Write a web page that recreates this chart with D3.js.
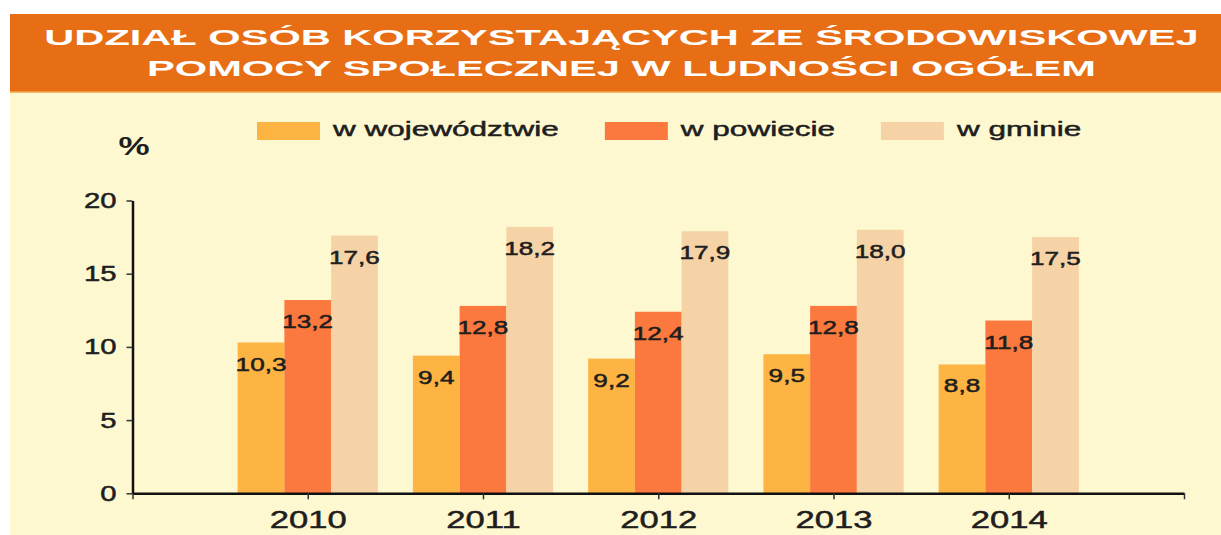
<!DOCTYPE html>
<html>
<head>
<meta charset="utf-8">
<script src="https://cdn.jsdelivr.net/npm/d3@7"></script>
<style>
  html, body { margin: 0; padding: 0; background: #fff; }
  svg { display: block; font-family: "Liberation Sans", Arial, sans-serif; }
  .heavy { stroke: #1e1e1e; stroke-width: 0.5px; }
</style>
</head>
<body>
<div id="chart"></div>
<script>
// data
var years = [2010, 2011, 2012, 2013, 2014];
var seriesNames = ["w województwie", "w powiecie", "w gminie"];
var wojewodztwo = [10.3, 9.4, 9.2, 9.5, 8.8];
var powiat = [13.2, 12.8, 12.4, 12.8, 11.8];
var gmina = [17.6, 18.2, 17.9, 18.0, 17.5];
var yTicks = [0, 5, 10, 15, 20];
var titleLines = ["UDZIAŁ OSÓB KORZYSTAJĄCYCH ZE ŚRODOWISKOWEJ", "POMOCY SPOŁECZNEJ W LUDNOŚCI OGÓŁEM"];

var seriesValues = [wojewodztwo, powiat, gmina];
var colours = ["#fdb443", "#fb783e", "#f6d3a7"];
var textColour = "#1e1e1e";

var w = 1221, h = 535;
var svg = d3.select("#chart").append("svg")
    .attr("width", w)
    .attr("height", h);

// the source picture is stretched sideways, so text is widened to match
function stretch(sel, k) {
    sel.each(function() {
        var len = this.getComputedTextLength();
        d3.select(this)
            .attr("textLength", len * k)
            .attr("lengthAdjust", "spacingAndGlyphs");
    });
}

var comma = function(v) { return d3.format(".1f")(v).replace(".", ","); };

// background panel
svg.append("rect")
    .attr("x", 10).attr("y", 14)
    .attr("width", w - 10).attr("height", h - 14)
    .attr("fill", "#fef8d0");

svg.append("rect")
    .attr("x", 10).attr("y", 14)
    .attr("width", w - 10).attr("height", 78)
    .attr("fill", "#e86e16");

svg.append("line")
    .attr("x1", 10).attr("x2", w)
    .attr("y1", 92).attr("y2", 92)
    .attr("stroke", "#f3a54a")
    .attr("stroke-width", 1.5);

// title
svg.selectAll("text.title")
    .data(titleLines)
    .enter()
    .append("text")
    .attr("class", "title")
    .attr("x", 621.5)
    .attr("y", function(d, i) { return 45 + i * 31; })
    .attr("text-anchor", "middle")
    .attr("font-size", "22px")
    .attr("font-weight", "bold")
    .attr("fill", "#fff")
    .text(function(d) { return d; })
    .call(stretch, 1.89);

// scales
var xScale = d3.scaleLinear()
    .domain([2009, 2015])
    .range([132.5, 1184]);

var yScale = d3.scaleLinear()
    .domain([0, 20])
    .range([493.3, 200.5]);

var groupWidth = xScale(2010.4) - xScale(2009.6);
var x1 = d3.scaleBand()
    .domain(d3.range(seriesNames.length))
    .range([0, groupWidth]);

// bars
var groups = svg.selectAll("g.year")
    .data(years)
    .enter()
    .append("g")
    .attr("class", "year")
    .attr("transform", function(d) { return "translate(" + xScale(d - 0.4) + ",0)"; });

groups.selectAll("rect")
    .data(function(d, i) {
        return seriesValues.map(function(s, j) { return { s: j, v: s[i] }; });
    })
    .enter()
    .append("rect")
    .attr("x", function(d) { return x1(d.s); })
    .attr("width", x1.bandwidth())
    .attr("y", function(d) { return yScale(d.v); })
    .attr("height", function(d) { return yScale(0) - yScale(d.v); })
    .attr("fill", function(d) { return colours[d.s]; });

groups.selectAll("text")
    .data(function(d, i) {
        return seriesValues.map(function(s, j) { return { s: j, v: s[i] }; });
    })
    .enter()
    .append("text")
    .attr("class", "heavy")
    .attr("x", function(d) { return x1(d.s) + x1.bandwidth() / 2; })
    .attr("y", function(d) { return yScale(d.v) + 28; })
    .attr("text-anchor", "middle")
    .attr("font-size", "18px")
    .attr("fill", textColour)
    .text(function(d) { return comma(d.v); })
    .call(stretch, 1.45);

// axes
var xAxis = d3.axisBottom(xScale)
    .tickValues(d3.range(2009, 2016))
    .tickFormat(function(d) { return years.indexOf(d) >= 0 ? d : ""; })
    .tickSize(6)
    .tickSizeOuter(0)
    .tickPadding(12);

var yAxis = d3.axisLeft(yScale)
    .tickValues(yTicks)
    .tickSize(6)
    .tickSizeOuter(0)
    .tickPadding(10);

var gx = svg.append("g")
    .attr("transform", "translate(0," + yScale(0) + ")")
    .call(xAxis);

var gy = svg.append("g")
    .attr("transform", "translate(" + xScale(2009) + ",0)")
    .call(yAxis);

[gx, gy].forEach(function(g) {
    g.select(".domain").attr("stroke", "#111").attr("stroke-width", 2.5);
    g.selectAll(".tick line").attr("stroke", "#333").attr("stroke-width", 1.5);
    g.selectAll(".tick text")
        .attr("class", "heavy")
        .attr("fill", textColour)
        .attr("font-family", "Liberation Sans, Arial, sans-serif");
});

gx.selectAll(".tick text").attr("font-size", "24px").call(stretch, 1.44);
gy.selectAll(".tick text").attr("font-size", "22px").call(stretch, 1.33);

// unit label
svg.append("text")
    .attr("x", 134)
    .attr("y", 155)
    .attr("text-anchor", "middle")
    .attr("font-size", "25px")
    .attr("font-weight", "bold")
    .attr("fill", textColour)
    .text("%")
    .call(stretch, 1.4);

// legend
var legendX = 257;
seriesNames.forEach(function(name, i) {
    svg.append("rect")
        .attr("x", legendX).attr("y", 122)
        .attr("width", 63).attr("height", 18)
        .attr("fill", colours[i]);
    var t = svg.append("text")
        .attr("class", "heavy")
        .attr("x", legendX + 76)
        .attr("y", 136)
        .attr("font-size", "21px")
        .attr("fill", textColour)
        .text(name)
        .call(stretch, 1.5);
    legendX += 76 + (+t.attr("textLength")) + 46;
});
</script>
</body>
</html>
